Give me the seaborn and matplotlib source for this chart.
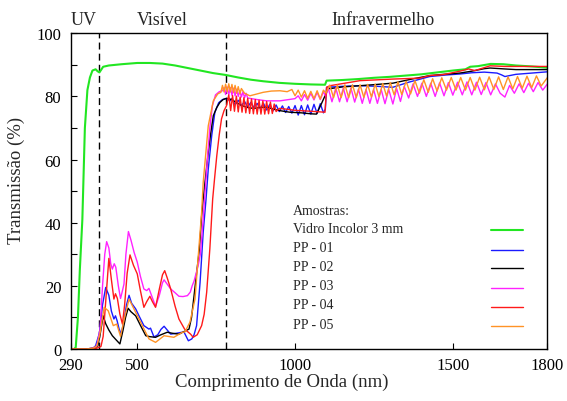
import numpy as np
import pandas as pd
import matplotlib
matplotlib.use("Agg")
import matplotlib.pyplot as plt
import seaborn as sns

# Transmission spectra: (wavelength nm, T %)
vidro = [(290, 0), (300, 0), (305, 0.5), (312, 10), (318, 25), (326, 41), (334, 70), (342, 82),
         (350, 86), (358, 88.2), (368, 88.6), (374, 88), (380, 87.6), (386, 88.5), (392, 89.4),
         (410, 89.8), (450, 90.2), (500, 90.6), (540, 90.6), (580, 90.4), (620, 89.8), (660, 89.0),
         (700, 88.2), (740, 87.4), (780, 86.8), (820, 86.0), (860, 85.3), (900, 84.8), (950, 84.3),
         (1000, 84.0), (1050, 83.8), (1095, 83.7), (1100, 85.0), (1150, 85.2), (1200, 85.5),
         (1250, 85.9), (1300, 86.2), (1350, 86.6), (1400, 87.0), (1450, 87.6), (1500, 88.2),
         (1540, 88.6), (1555, 89.4), (1580, 89.6), (1620, 90.3), (1660, 90.2), (1700, 89.8),
         (1750, 89.5), (1800, 89.1)]

pp01 = [(290, 0), (340, 0), (360, 0.3), (368, 1), (380, 5), (390, 14), (400, 19.5), (410, 17),
        (418, 12), (426, 9.5), (431, 10.5), (436, 9), (442, 6.5), (449, 4.7), (458, 9), (466, 14),
        (474, 17), (482, 14.5), (495, 12.7), (508, 10), (521, 7.4), (537, 6.3), (542, 6.6),
        (553, 3.8), (565, 4.5), (575, 6.2), (585, 7.2), (595, 6), (606, 4.7), (625, 5), (648, 5.4),
        (662, 2.6), (673, 3.2), (680, 4.5), (688, 7.4), (699, 21), (709, 37), (718, 47.5),
        (725, 57), (736, 67.6), (746, 75), (758, 78), (770, 79), (783, 79.4), (794, 78.6),
        (800, 79.3), (810, 77.4), (820, 78.8), (830, 77.0), (840, 78.4), (850, 76.7), (860, 78.1),
        (870, 76.4), (880, 77.8), (890, 76.2), (900, 77.8), (910, 75.7), (920, 77.5), (930, 75.4),
        (940, 77.3), (950, 75.2), (960, 77.0), (970, 74.9), (980, 76.8), (990, 74.7), (1000, 77.1),
        (1010, 74.1), (1020, 77.1), (1030, 74.2), (1040, 77.3), (1050, 74.4), (1060, 77.5),
        (1070, 74.6), (1080, 77.7), (1090, 74.8), (1096, 76), (1100, 82.9), (1150, 83.2),
        (1206, 83.4), (1260, 83.2), (1310, 82.9), (1360, 84.5), (1427, 86.3), (1480, 86.8),
        (1522, 87.1), (1560, 87.5), (1600, 87.7), (1640, 87.4), (1655, 86.8), (1665, 86.3),
        (1700, 87.0), (1750, 87.4), (1800, 87.8)]

pp02 = [(290, 0), (340, 0), (365, 0.3), (375, 1), (383, 5), (392, 10.5), (400, 8), (410, 6),
        (421, 4.2), (432, 3), (445, 1.6), (455, 6), (463, 10), (471, 12.9), (480, 11.8),
        (495, 10.5), (510, 7.5), (527, 4.2), (540, 3.9), (558, 3.7), (575, 4.5), (595, 5.3),
        (610, 5), (632, 4.7), (648, 5.5), (664, 6.3), (672, 10), (680, 16.9), (688, 24),
        (697, 31.7), (704, 42.2), (709, 47.5), (717, 55), (725, 62.3), (733, 68.5), (741, 73.9),
        (752, 76.5), (762, 78.1), (772, 79), (783, 79.4), (800, 79), (815, 78), (831, 77.1),
        (850, 76.5), (868, 76.2), (890, 76.5), (910, 76.6), (930, 76), (952, 75.5), (970, 75.2),
        (984, 75), (1020, 74.8), (1050, 74.5), (1068, 74.4), (1085, 78), (1105, 82.4), (1150, 83),
        (1206, 83.4), (1260, 83.8), (1310, 84.2), (1370, 85.5), (1427, 86.6), (1470, 87),
        (1522, 87.4), (1560, 88), (1600, 88.8), (1618, 89), (1650, 88.8), (1665, 88.7),
        (1700, 88.5), (1750, 88.5), (1800, 88.5)]

pp03 = [(290, 0), (340, 0), (362, 0.3), (372, 1), (382, 6), (390, 20), (397, 30), (403, 34),
        (410, 32), (416, 27), (421, 25.3), (427, 27), (432, 25.9), (440, 20), (447, 16), (452, 18),
        (458, 20.6), (464, 30), (472, 37.2), (480, 34.5), (490, 30.6), (500, 27.5), (510, 23),
        (521, 19), (530, 18.5), (537, 19.2), (545, 17), (558, 13.5), (570, 17), (580, 21),
        (585, 21.9), (595, 20.5), (606, 19), (620, 17.8), (632, 16.7), (645, 16.6), (659, 16.9),
        (668, 18), (674, 20), (680, 21.5), (693, 26.4), (700, 30), (708, 40), (715, 50), (722, 60),
        (730, 70), (738, 77), (748, 80.5), (760, 81.5), (770, 81.8), (775, 82.8), (780, 80.6),
        (785, 83), (790, 80.6), (795, 82.8), (800, 80.4), (805, 82.6), (810, 80.2), (815, 82.3),
        (820, 80), (825, 81.9), (830, 79.8), (835, 81.5), (840, 79.6), (845, 81), (850, 79.5),
        (880, 79), (910, 78.6), (952, 78.6), (1000, 79.3), (1010, 80.2), (1020, 78.6), (1030, 80.6),
        (1040, 78.8), (1050, 81), (1060, 78.9), (1070, 81.3), (1080, 79), (1090, 81.5), (1097, 80),
        (1105, 82.7), (1117, 78.3), (1129, 82.7), (1141, 78.3), (1153, 82.7), (1165, 78.3),
        (1177, 82.7), (1189, 78.2), (1201, 82.3), (1213, 77.8), (1225, 82.2), (1237, 77.8),
        (1249, 82.2), (1261, 77.8), (1273, 82.2), (1285, 77.7), (1297, 82.2), (1310, 77.6),
        (1322, 82.5), (1334, 78.4), (1346, 83.2), (1360, 79.5), (1374, 84), (1388, 80),
        (1402, 84.2), (1416, 80), (1430, 84.2), (1444, 80), (1458, 84.3), (1472, 80.2),
        (1486, 84.4), (1500, 80.4), (1515, 84.5), (1530, 80.5), (1545, 84.6), (1560, 80.5),
        (1575, 84.5), (1590, 80.6), (1605, 84.4), (1620, 80.5), (1635, 84), (1650, 81),
        (1665, 79.8), (1680, 83.5), (1695, 81), (1710, 84), (1725, 81.2), (1740, 84.2),
        (1755, 81.5), (1770, 84.4), (1785, 82), (1800, 84)]

pp04 = [(290, 0), (350, 0), (370, 0.2), (385, 0.8), (392, 4), (400, 15), (410, 28.7), (418, 22),
        (426, 15.8), (431, 17.5), (437, 16), (445, 11), (453, 7.9), (460, 14), (468, 24),
        (477, 29.8), (488, 26.5), (500, 23.8), (510, 18.5), (521, 13.2), (530, 15), (540, 16.7),
        (548, 15), (558, 13.2), (570, 19), (580, 23.5), (587, 24.8), (595, 22.5), (606, 19),
        (620, 13.5), (632, 9.5), (650, 6.3), (669, 4.7), (677, 3.7), (690, 4.5), (704, 7.4),
        (712, 11), (720, 18), (730, 31.7), (739, 47.5), (745, 54), (752, 61.2), (760, 68),
        (767, 72.9), (775, 75.5), (783, 77.1), (790, 80.5), (796, 75.5), (802, 80.3), (808, 75.3),
        (814, 80.1), (820, 75.1), (826, 79.8), (832, 75), (838, 79.6), (844, 74.8), (850, 79.4),
        (856, 74.6), (862, 79.2), (868, 74.5), (874, 79), (880, 74.4), (886, 78.8), (892, 74.4),
        (898, 78.6), (904, 74.4), (910, 78.4), (916, 74.5), (922, 78.2), (928, 74.6), (934, 77.6),
        (940, 75.2), (950, 76.2), (970, 76), (1000, 75.6), (1050, 75.3), (1095, 75), (1100, 82.9),
        (1111, 83.4), (1206, 85), (1310, 85.5), (1396, 85.8), (1427, 86.6), (1470, 86.9),
        (1522, 88), (1550, 88.7), (1570, 88.2), (1618, 89.7), (1665, 89.5), (1800, 89.5)]

pp05 = [(290, 0), (340, 0), (362, 0.3), (372, 1), (382, 5), (395, 13.2), (408, 12.1), (424, 7.4),
        (435, 7.9), (447, 4), (460, 10), (474, 15.8), (495, 11.6), (516, 7.4), (537, 3.2),
        (558, 2.1), (585, 4.2), (616, 3.7), (643, 5.3), (651, 5.4), (667, 8.5), (683, 15.8),
        (695, 31.7), (704, 43.3), (709, 52.8), (725, 70.7), (741, 78.6), (755, 80.8), (765, 81.3),
        (770, 83.5), (775, 81.4), (780, 83.9), (785, 81.5), (790, 84), (795, 81.4), (800, 83.8),
        (805, 81.2), (810, 83.5), (815, 81), (820, 83.1), (825, 80.8), (830, 82.5), (840, 81),
        (857, 80.2), (880, 80.8), (899, 81.3), (925, 81.7), (952, 81.8), (975, 81.5), (990, 82.2),
        (1000, 80.2), (1010, 82), (1020, 79.8), (1030, 81.8), (1040, 79.4), (1050, 81.6),
        (1060, 79.3), (1070, 81.8), (1080, 79.2), (1090, 82), (1098, 81), (1110, 83.6),
        (1122, 79.6), (1134, 83.6), (1146, 79.6), (1158, 83.7), (1170, 79.6), (1182, 83.7),
        (1194, 79.6), (1206, 83.7), (1218, 79.7), (1230, 83.8), (1242, 79.8), (1254, 83.9),
        (1266, 79.9), (1278, 84.1), (1290, 80.1), (1302, 84.4), (1314, 80.5), (1326, 84.6),
        (1338, 80.6), (1352, 84.8), (1366, 80.8), (1380, 85), (1394, 81), (1408, 85.3),
        (1422, 81.3), (1436, 85.6), (1450, 81.7), (1465, 85.9), (1480, 82), (1495, 86),
        (1510, 82), (1525, 86), (1540, 82), (1555, 86), (1570, 82), (1585, 86.1), (1600, 82.1),
        (1615, 86.2), (1630, 82.2), (1645, 86.2), (1660, 82.2), (1675, 86.2), (1690, 82.4),
        (1705, 86.3), (1720, 82.6), (1735, 86.4), (1750, 82.8), (1765, 86.5), (1780, 83.3),
        (1800, 86)]

names = ["Vidro Incolor 3 mm", "PP - 01", "PP - 02", "PP - 03", "PP - 04", "PP - 05"]
series = [vidro, pp01, pp02, pp03, pp04, pp05]
colors = ["#22e622", "#1a1aff", "#000000", "#ff22ff", "#ff1a1a", "#ff9326"]

x_ticks = [290, 500, 1000, 1500, 1800]
region_labels = ["UV", "Visível", "Infravermelho"]
region_centers = [331, 578, 1279]
region_limits = [380, 780]

rows = []
for name, pts in zip(names, series):
    for wl, t in pts:
        rows.append((name, wl, t))
df = pd.DataFrame(rows, columns=["amostra", "wl", "T"])

sns.set_style("ticks")
plt.rcParams["font.family"] = ["Liberation Serif", "DejaVu Serif"]

fig = plt.figure(figsize=(5.67, 4.02), dpi=100)
ax = fig.add_axes([0.1252, 0.1294, 0.8404, 0.7853])

sns.lineplot(data=df, x="wl", y="T", hue="amostra", hue_order=names,
             palette=dict(zip(names, colors)), estimator=None, sort=False,
             legend=False, linewidth=1.0, ax=ax)
ax.lines[0].set_linewidth(1.5)

for xv in region_limits:
    ax.axvline(xv, color="black", lw=1.0, ls=(0, (5, 3)), zorder=1)

ax.set_xlim(290, 1800)
ax.set_ylim(0, 100)
ax.set_xticks(x_ticks)
ax.set_yticks(range(0, 101, 20))
ax.set_yticks(range(10, 100, 20), minor=True)
ax.tick_params(axis="both", which="both", direction="in", length=4.5, width=0.8,
               labelsize=12, colors="black")
ax.tick_params(axis="y", pad=7)
ax.tick_params(axis="x", pad=6)
for sp in ax.spines.values():
    sp.set_visible(True)
    sp.set_linewidth(1.0)
    sp.set_color("black")

ax.set_xlabel("Comprimento de Onda (nm)", fontsize=13.5)
ax.set_ylabel("Transmissão (%)", fontsize=13.5)
ax.xaxis.set_label_coords(0.443, -0.075)
ax.yaxis.set_label_coords(-0.097, 0.538)

for lab, xc in zip(region_labels, region_centers):
    ax.text(xc, 1.045, lab, transform=ax.get_xaxis_transform(), ha="center", va="center",
            fontsize=13)

# legend: labels left, line samples on the right
ax.text(0.466, 0.438, "Amostras:", transform=ax.transAxes, ha="left", va="center", fontsize=10)
row_y = [0.382, 0.321, 0.261, 0.2005, 0.140, 0.079]
for name, c, yy in zip(names, colors, row_y):
    ax.text(0.466, yy, name, transform=ax.transAxes, ha="left", va="center", fontsize=10)
    ax.plot([0.881, 0.948], [yy - 0.006, yy - 0.006], transform=ax.transAxes, color=c,
            lw=1.5 if c == colors[0] else 1.0)

fig.savefig("out.png", dpi=100)
